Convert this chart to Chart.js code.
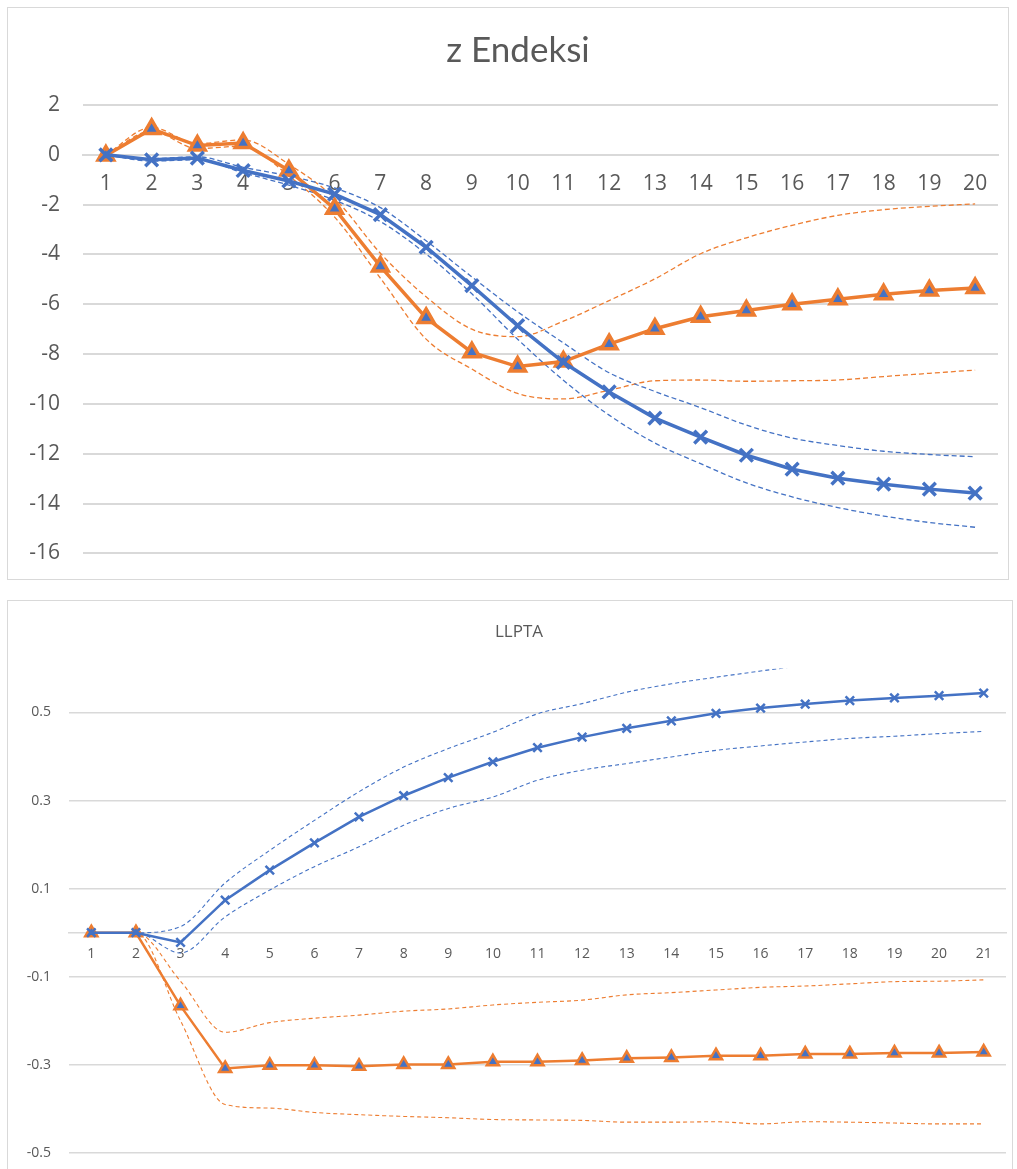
<!DOCTYPE html>
<html>
<head>
<meta charset="utf-8">
<script src="https://cdn.jsdelivr.net/npm/chart.js@4/dist/chart.umd.min.js"></script>
<style>
  body { margin: 0; background: #fff; width: 1017px; height: 1169px; overflow: hidden; position: relative; }
  .box { position: absolute; border: 1px solid #D9D9D9; background: #fff; overflow: hidden; }
  #boxTop { left: 7px; top: 7px; width: 1000px; height: 571px; }
  #boxBottom { left: 7px; top: 600px; width: 1004px; height: 580px; }
  canvas { display: block; }
</style>
</head>
<body>
<div class="box" id="boxTop"><canvas id="chartTop" width="1020" height="581"></canvas></div>
<div class="box" id="boxBottom"><canvas id="chartBottom" width="1022" height="580"></canvas></div>
<script>
// z Endeksi
const zLabels = ['1','2','3','4','5','6','7','8','9','10','11','12','13','14','15','16','17','18','19','20'];
const zTicks = [2, 0, -2, -4, -6, -8, -10, -12, -14, -16];
const zBlue = [0, -0.2, -0.13, -0.63, -1.05, -1.58, -2.4, -3.71, -5.25, -6.86, -8.33, -9.52, -10.57, -11.33, -12.06, -12.62, -12.98, -13.22, -13.42, -13.58];
const zBlueUp = [0, -0.15, -0.08, -0.5, -0.85, -1.33, -2.12, -3.45, -4.9, -6.3, -7.55, -8.75, -9.5, -10.15, -10.85, -11.37, -11.67, -11.9, -12.03, -12.12];
const zBlueLo = [0, -0.25, -0.2, -0.72, -1.22, -1.82, -2.68, -3.98, -5.58, -7.4, -9.05, -10.45, -11.57, -12.4, -13.17, -13.73, -14.16, -14.5, -14.76, -14.95];
const zOrange = [-0.03, 1.04, 0.37, 0.47, -0.63, -2.16, -4.48, -6.55, -7.93, -8.5, -8.3, -7.6, -6.98, -6.5, -6.25, -6.0, -5.8, -5.6, -5.45, -5.35];
const zOrangeUp = [0, 1.1, 0.45, 0.6, -0.38, -1.75, -3.95, -5.7, -7.0, -7.3, -6.68, -5.85, -4.98, -3.97, -3.33, -2.83, -2.43, -2.2, -2.07, -1.97];
const zOrangeLo = [0, 0.95, 0.25, 0.35, -0.85, -2.5, -4.95, -7.4, -8.6, -9.58, -9.8, -9.45, -9.07, -9.04, -9.09, -9.07, -9.04, -8.9, -8.77, -8.64];

// LLPTA
const lLabels = ['1','2','3','4','5','6','7','8','9','10','11','12','13','14','15','16','17','18','19','20','21'];
const lTicks = [-0.5, -0.3, -0.1, 0.1, 0.3, 0.5];
const lBlue = [0, 0, -0.022, 0.074, 0.142, 0.204, 0.263, 0.311, 0.352, 0.388, 0.42, 0.444, 0.464, 0.481, 0.498, 0.51, 0.519, 0.527, 0.533, 0.538, 0.544];
const lBlueUp = [0, 0, 0.014, 0.113, 0.187, 0.255, 0.32, 0.376, 0.418, 0.455, 0.497, 0.52, 0.546, 0.565, 0.58, 0.594, 0.607, 0.618, 0.628, 0.636, 0.643];
const lBlueLo = [0, 0, -0.046, 0.036, 0.097, 0.15, 0.195, 0.244, 0.282, 0.308, 0.346, 0.369, 0.384, 0.399, 0.414, 0.424, 0.433, 0.441, 0.446, 0.452, 0.457];
const lOrange = [0, 0, -0.166, -0.308, -0.301, -0.301, -0.303, -0.299, -0.299, -0.293, -0.293, -0.29, -0.285, -0.283, -0.279, -0.279, -0.275, -0.275, -0.273, -0.273, -0.271];
const lOrangeUp = [0, 0, -0.11, -0.226, -0.204, -0.194, -0.187, -0.178, -0.173, -0.164, -0.158, -0.153, -0.141, -0.136, -0.13, -0.124, -0.121, -0.116, -0.111, -0.11, -0.107];
const lOrangeLo = [0, 0, -0.2, -0.39, -0.398, -0.408, -0.413, -0.417, -0.42, -0.424, -0.425, -0.426, -0.43, -0.43, -0.429, -0.434, -0.429, -0.43, -0.432, -0.434, -0.434];

const BLUE = '#4472C4';
const ORANGE = '#ED7D31';
const TEXT = '#595959';
const GRID = '#D9D9D9';

function mainLine(data, color, style, s) {
    return {
        data,
        borderColor: color,
        borderWidth: s.line,
        pointStyle: style,
        pointRadius: style === 'triangle' ? s.tri : s.cross,
        pointBorderWidth: s.pw,
        pointBorderColor: color,
        pointBackgroundColor: BLUE,
        tension: 0,
        fill: false
    };
}

function bandLine(data, color, s) {
    return {
        data,
        borderColor: color,
        borderWidth: s.dash,
        borderDash: s.dashPattern,
        pointRadius: 0,
        cubicInterpolationMode: 'monotone',
        fill: false
    };
}

function makeChart(id, cfg) {
    const s = cfg.sizes;
    return new Chart(document.getElementById(id), {
        type: 'line',
        data: {
            labels: cfg.labels,
            datasets: [
                mainLine(cfg.blue, BLUE, 'crossRot', s),
                mainLine(cfg.orange, ORANGE, 'triangle', s),
                bandLine(cfg.blueUp, BLUE, s),
                bandLine(cfg.blueLo, BLUE, s),
                bandLine(cfg.orangeUp, ORANGE, s),
                bandLine(cfg.orangeLo, ORANGE, s)
            ]
        },
        options: {
            responsive: false,
            animation: false,
            devicePixelRatio: 1,
            layout: { padding: cfg.padding },
            plugins: {
                legend: { display: false },
                tooltip: { enabled: false },
                title: {
                    display: true,
                    text: cfg.title,
                    color: TEXT,
                    font: cfg.titleFont,
                    padding: cfg.titlePadding
                }
            },
            scales: {
                x: {
                    type: 'category',
                    offset: true,
                    position: { y: 0 },
                    grid: { display: false, drawTicks: false },
                    border: { display: true, color: GRID, width: s.grid },
                    ticks: {
                        color: TEXT,
                        font: { family: 'Open Sans', size: s.xFont },
                        padding: s.xPad,
                        maxRotation: 0,
                        autoSkip: false
                    }
                },
                y: {
                    min: cfg.min,
                    max: cfg.max,
                    afterBuildTicks: (scale) => { scale.ticks = cfg.ticks.map(v => ({ value: v })); },
                    afterFit: (scale) => { scale.width = cfg.axisWidth; },
                    grid: { color: GRID, lineWidth: s.grid, drawTicks: false },
                    border: { display: false },
                    ticks: {
                        color: TEXT,
                        font: { family: 'Open Sans', size: s.yFont },
                        padding: s.yPad,
                        callback: cfg.format
                    }
                },
                // empty right-hand spacer so the title stays centred on the whole box
                spacer: {
                    type: 'linear',
                    position: 'right',
                    display: true,
                    afterFit: (scale) => { scale.width = cfg.rightWidth; },
                    grid: { display: false },
                    border: { display: false },
                    ticks: { display: false }
                }
            }
        }
    });
}

makeChart('chartTop', {
    title: 'z Endeksi',
    titleFont: { family: 'Lato', size: 35, weight: 'normal' },
    titlePadding: { top: 22, bottom: 33 },
    labels: zLabels,
    ticks: zTicks,
    min: -16, max: 2,
    blue: zBlue, blueUp: zBlueUp, blueLo: zBlueLo,
    orange: zOrange, orangeUp: zOrangeUp, orangeLo: zOrangeLo,
    padding: { left: 0, right: 0, top: 0, bottom: 26 },
    axisWidth: 75,
    rightWidth: 30,
    format: (v) => String(v),
    sizes: { line: 3.5, cross: 9, tri: 9, pw: 3.5, dash: 1.3, dashPattern: [5, 3], grid: 2, xFont: 21, yFont: 21, xPad: 17, yPad: 23 }
});

makeChart('chartBottom', {
    title: 'LLPTA',
    titleFont: { family: 'Open Sans', size: 17, weight: 'normal' },
    titlePadding: { top: 21, bottom: 26 },
    labels: lLabels,
    ticks: lTicks,
    min: -0.5, max: 0.6,
    blue: lBlue, blueUp: lBlueUp, blueLo: lBlueLo,
    orange: lOrange, orangeUp: lOrangeUp, orangeLo: lOrangeLo,
    padding: { left: 0, right: 0, top: 0, bottom: 28 },
    axisWidth: 61,
    rightWidth: 24,
    format: (v) => v.toFixed(1),
    sizes: { line: 2.5, cross: 6, tri: 7, pw: 2.5, dash: 1.1, dashPattern: [4, 3], grid: 1.4, xFont: 14, yFont: 14, xPad: 13, yPad: 18 }
});
</script>
</body>
</html>
